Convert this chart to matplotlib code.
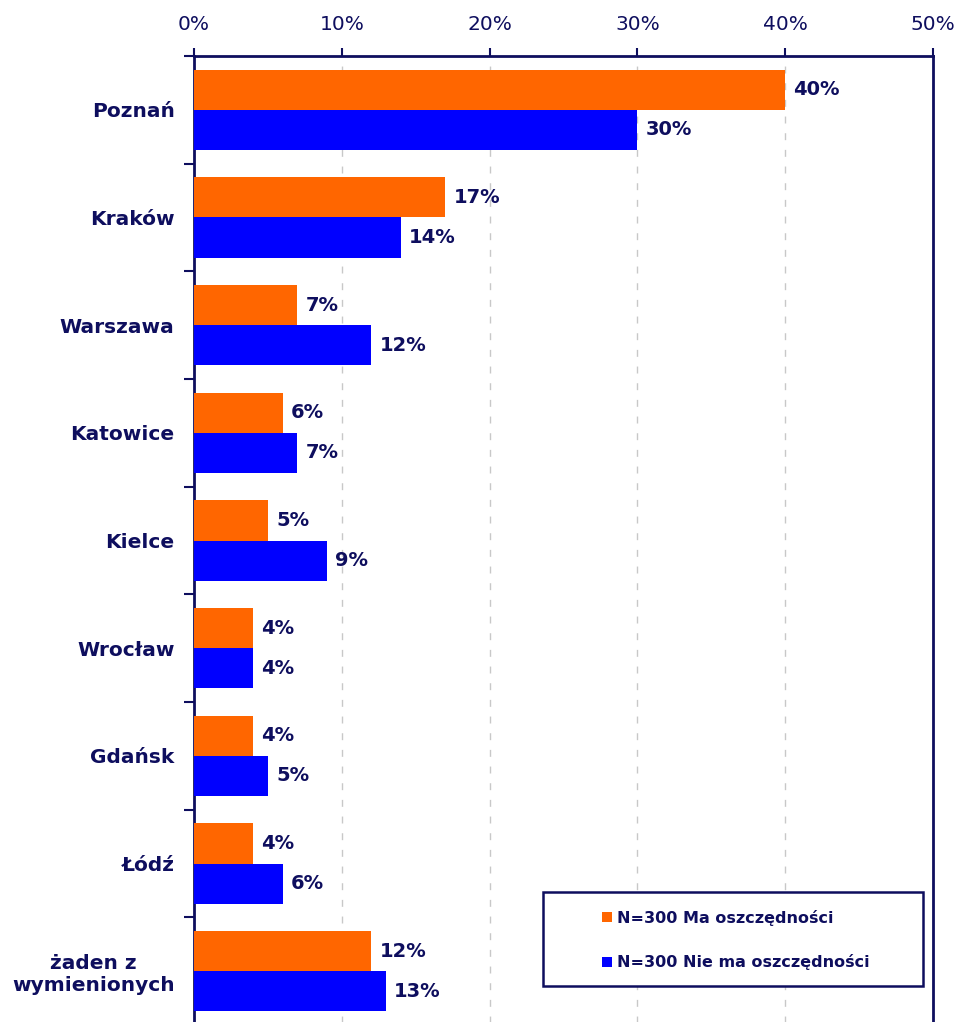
import matplotlib.pyplot as plt
from matplotlib.patches import Rectangle
import numpy as np

plt.rcParams['font.family'] = ['DejaVu Sans']

categories = ["Poznań", "Kraków", "Warszawa", "Katowice", "Kielce",
              "Wrocław", "Gdańsk", "Łódź", "żaden z\nwymienionych"]
ma = [40, 17, 7, 6, 5, 4, 4, 4, 12]
nie_ma = [30, 14, 12, 7, 9, 4, 5, 6, 13]
series_names = ["N=300 Ma oszczędności", "N=300 Nie ma oszczędności"]

navy = "#0e0e5e"
orange = "#ff6600"
blue = "#0000ff"

W, H = 957, 1022
fig = plt.figure(figsize=(W / 100, H / 100), dpi=100)
ax = fig.add_axes([194 / W, -3 / H, (933 - 194) / W, (H - 56 + 3) / H])

y = np.arange(len(categories))
h = 0.372
b1 = ax.barh(y - h / 2, ma, height=h, color=orange, label=series_names[0], zorder=3)
b2 = ax.barh(y + h / 2, nie_ma, height=h, color=blue, label=series_names[1], zorder=3)

for bars, vals in ((b1, ma), (b2, nie_ma)):
    for bar, v in zip(bars, vals):
        ax.text(v + 0.55, bar.get_y() + bar.get_height() / 2, f"{v}%",
                va="center", ha="left", fontsize=14, fontweight="bold", color=navy)

ax.set_xlim(0, 50)
ax.set_ylim(len(categories) - 0.5, -0.5)
ax.xaxis.tick_top()
ax.set_xticks(range(0, 51, 10))
ax.set_xticklabels([f"{t}%" for t in range(0, 51, 10)], fontsize=14.5, color=navy)
ax.tick_params(axis="x", direction="out", length=6, width=1.5, color=navy, pad=10)

ax.set_yticks(y)
ax.set_yticklabels(categories, fontsize=14.5, fontweight="bold", color=navy,
                   multialignment="center")
ax.set_yticks(np.arange(len(categories) + 1) - 0.5, minor=True)
ax.tick_params(axis="y", which="major", length=0, pad=14)
ax.tick_params(axis="y", which="minor", length=7, width=1.5, color=navy)

ax.grid(axis="x", linestyle=(0, (5, 7)), color="#c8c8c8", linewidth=1, zorder=0)

for s in ["top", "left", "right"]:
    ax.spines[s].set_color(navy)
    ax.spines[s].set_linewidth(2)
ax.spines["bottom"].set_visible(False)

# legend frame drawn separately so the entries can sit off-centre like the original
box = Rectangle((543 / W, 1 - 986 / H), (923 - 543) / W, (986 - 892) / H,
                transform=fig.transFigure, facecolor="white", edgecolor=navy,
                linewidth=1.8, zorder=5, clip_on=False)
ax.add_patch(box)
leg = ax.legend(loc="center left", bbox_to_anchor=(602 / W, 1 - 940 / H),
                bbox_transform=fig.transFigure, frameon=False,
                handlelength=0.6, handleheight=0.6, handletextpad=0.35,
                borderpad=0, borderaxespad=0, labelspacing=1.8,
                prop={"weight": "bold", "size": 11.5})
leg.set_zorder(6)
for t in leg.get_texts():
    t.set_color(navy)

fig.savefig("out.png", dpi=100)
